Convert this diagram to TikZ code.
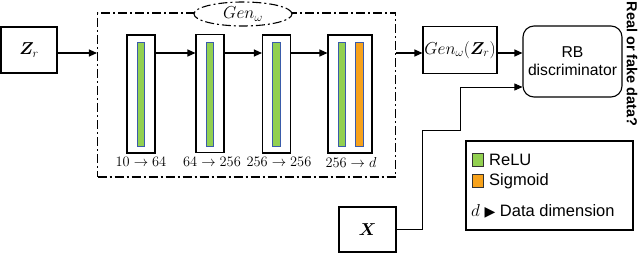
\documentclass[tikz,border=0pt]{standalone}
\usepackage{amsmath,amssymb,bm}
\usepackage{fontspec}
\usetikzlibrary{arrows.meta,shapes.geometric}
\newfontfamily\lsans{Liberation Sans}
\newfontfamily\dvsans{DejaVu Sans}
\definecolor{relu}{HTML}{92D050}
\definecolor{sigm}{HTML}{F7A21B}
\definecolor{barblue}{HTML}{3A5BAA}
\begin{document}
\begin{tikzpicture}[x=1pt,y=-1pt,
  box/.style={draw, line width=1.1pt, inner sep=0pt},
  layer/.style={box, minimum width=28pt, minimum height=118pt},
  bar/.style={draw=barblue, line width=0.8pt, minimum width=7.5pt, minimum height=104pt, inner sep=0pt},
  arr/.style={-{Triangle[length=8pt,width=7pt]}, line width=1.1pt},
  thinarr/.style={-{Triangle[length=8pt,width=7pt]}, line width=0.7pt},
  lbl/.style={font=\fontsize{13.5}{14}\selectfont, inner sep=0pt},
  dd/.style={dash pattern=on 9pt off 3pt on 2pt off 3pt, line width=1.1pt},
  swatch/.style={draw=black!80, line width=0.8pt, minimum width=11pt, minimum height=13pt, inner sep=0pt},
  legtext/.style={anchor=west, inner sep=0pt, font=\lsans\fontsize{16.5}{18}\selectfont}
]
\useasboundingbox (0,0) rectangle (640,254);
\coordinate (r) at (0,53);
% input
\node[box, minimum width=56pt, minimum height=46pt, font=\fontsize{18}{19}\selectfont] (zr) at (29,50) {$\bm{Z}_r$};
% generator frame
\node[draw, dd, minimum width=298pt, minimum height=164pt, inner sep=0pt] (frame) at (246.5,95) {};
\node[draw, dd, fill=white, ellipse, minimum width=98pt, minimum height=24pt, inner sep=0pt, font=\fontsize{17.5}{18}\selectfont] (gen) at (243,14) {$Gen_{\omega}$};
% layers
\node[layer] (l1) at (141,94) {};
\node[layer] (l2) at (210,93.5) {};
\node[layer] (l3) at (276.5,94) {};
\node[layer, minimum width=44pt] (l4) at (350,94) {};
\node[bar, fill=relu] (b1) at (141,94) {};
\node[bar, fill=relu] (b2) at (210,94) {};
\node[bar, fill=relu] (b3) at (276.5,94) {};
\node[bar, fill=relu] (b4) at (342,94) {};
\node[bar, fill=sigm] (b5) at (359.5,94) {};
\node[lbl] (t1) at (141,162) {$10\rightarrow 64$};
\node[lbl] (t2) at (212,162) {$64\rightarrow 256$};
\node[lbl] (t3) at (279,162) {$256\rightarrow 256$};
\node[lbl] (t4) at (351,162) {$256\rightarrow d$};
\draw[arr] (zr.east|-r) -- (frame.west|-r);
\draw[arr] (l1.east|-r) -- (l2.west|-r);
\draw[arr] (l2.east|-r) -- (l3.west|-r);
\draw[arr] (l3.east|-r) -- (l4.west|-r);
% output of generator
\node[box, minimum width=74pt, minimum height=47pt, font=\fontsize{17.5}{18}\selectfont] (gz) at (460,50) {$Gen_{\omega}(\bm{Z}_r)$};
\node[box, rounded corners=11pt, minimum width=99pt, minimum height=71pt, align=center, font=\lsans\fontsize{15.7}{18}\selectfont] (disc) at (572.5,61.5) {RB\\discriminator};
\draw[arr] (frame.east|-r) -- (gz.west|-r);
\draw[arr] (gz.east|-r) -- (disc.west|-r);
% real data
\node[box, minimum width=57pt, minimum height=45pt, font=\fontsize{17}{18}\selectfont] (x) at (367.5,229.5) {$\bm{X}$};
\coordinate (c1) at (422,130);
\coordinate (c2) at (460,87);
\draw[thinarr] (x.east) -| (c1) -| (c2) -- (disc.west|-c2);
% output label
\node[rotate=-90, inner sep=0pt, font=\lsans\bfseries\fontsize{14.5}{16}\selectfont] (q) at (632,64) {Real or fake data?};
% legend
\node[box, minimum width=167pt, minimum height=89pt] (leg) at (549.5,185.5) {};
\node[swatch, fill=relu] (s1) at (477.5,159.5) {};
\node[swatch, fill=sigm] (s2) at (477.5,180.5) {};
\node[legtext] (lr) at (489,160) {ReLU};
\node[legtext] (ls) at (489,181) {Sigmoid};
\node[legtext] (ld) at (471,211) {{\fontsize{18}{18}\selectfont$d$} {\dvsans\fontsize{14}{15}\selectfont ▶} Data dimension};
\end{tikzpicture}
\end{document}
